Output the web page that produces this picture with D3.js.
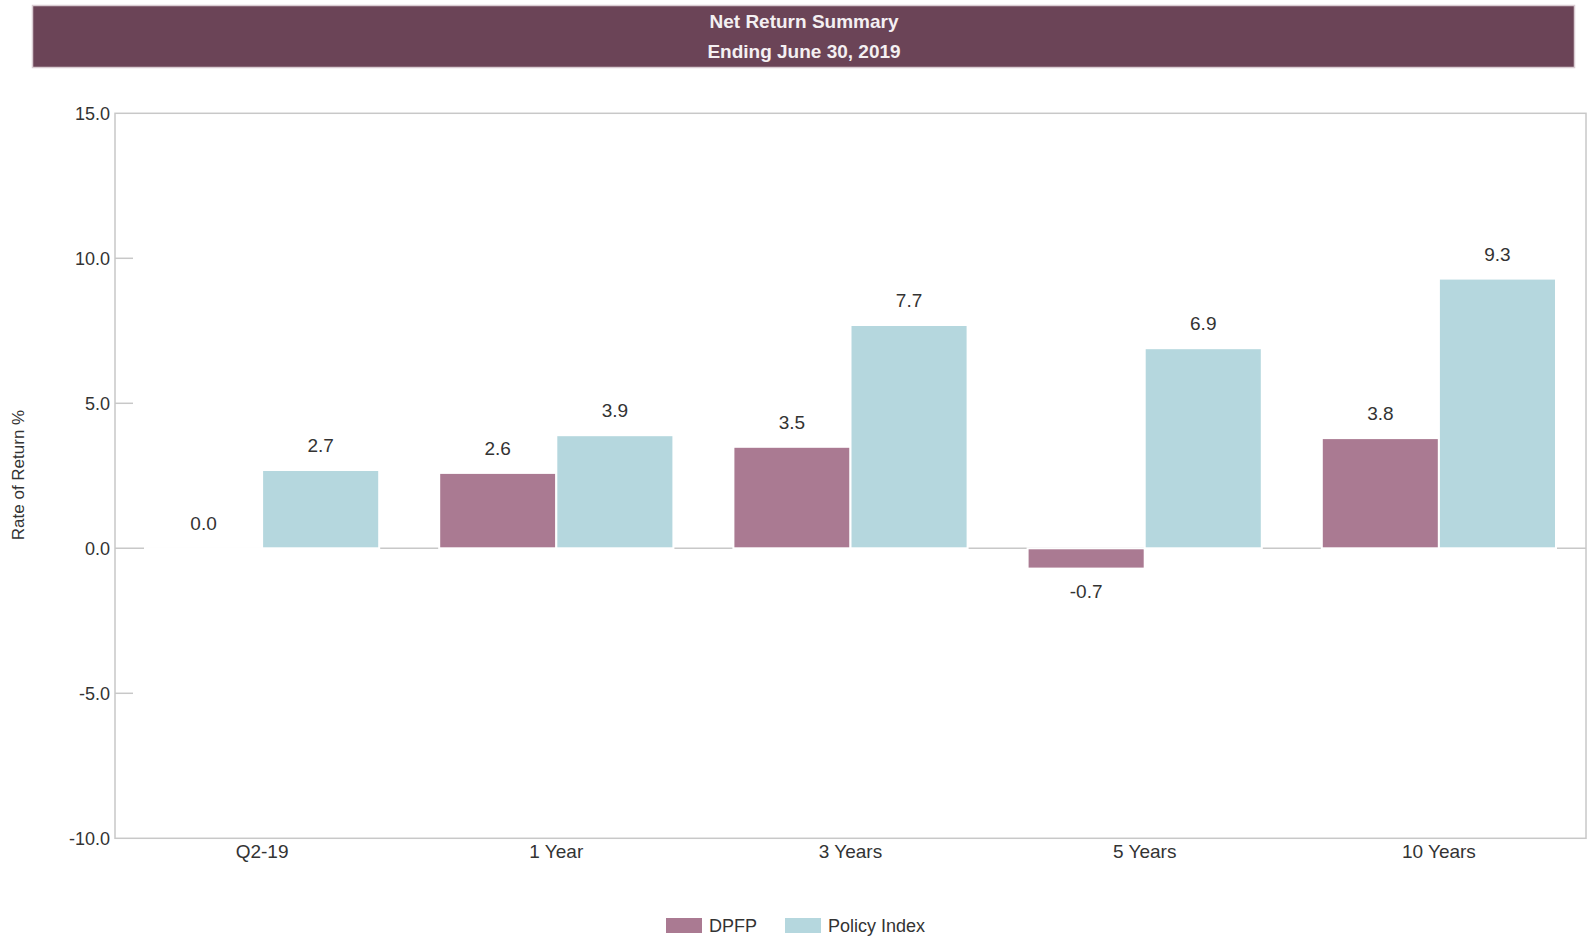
<!DOCTYPE html>
<html>
<head>
<meta charset="utf-8">
<script src="https://cdn.jsdelivr.net/npm/d3@7"></script>
<style>
  body { margin: 0; background: #fff; }
  text { font-family: "Liberation Sans", Arial, sans-serif; fill: #333; }
</style>
</head>
<body>
<div id="chart"></div>
<script>
const categories = ['Q2-19', '1 Year', '3 Years', '5 Years', '10 Years'];
const seriesNames = ['DPFP', 'Policy Index'];
const dpfp = [0.0, 2.6, 3.5, -0.7, 3.8];
const policy = [2.7, 3.9, 7.7, 6.9, 9.3];
const yTicks = [-10, -5, 0, 5, 10, 15];
const titleLines = ['Net Return Summary', 'Ending June 30, 2019'];

const width = 1593, height = 938;
const colors = ['#aa7a92', '#b5d7de'];
const grid = '#c8c8c8';

// plain hyphen for negatives, like the original
const fmt = d => d3.format('.1f')(d).replace('\u2212', '-');

const svg = d3.select('#chart').append('svg')
  .attr('width', width)
  .attr('height', height);

// title banner
svg.append('rect')
  .attr('x', 32.5).attr('y', 5.5)
  .attr('width', 1542).attr('height', 62)
  .attr('fill', '#6b4457')
  .attr('stroke', '#d9ccd2').attr('stroke-width', 1.5);

svg.selectAll('text.title')
  .data(titleLines)
  .enter().append('text')
    .attr('class', 'title')
    .attr('x', 804)
    .attr('y', (d, i) => 28 + i * 30)
    .attr('text-anchor', 'middle')
    .style('font-size', '19px')
    .style('font-weight', 'bold')
    .style('fill', '#f4f0f2')
    .text(d => d);

const plotL = 115, plotR = 1586, plotT = 113.3, plotB = 838.3;

const y = d3.scaleLinear()
  .domain([-10, 15])
  .range([plotB, plotT]);

const x0 = d3.scaleBand()
  .domain(categories)
  .range([plotL, plotR]);

const x1 = d3.scaleBand()
  .domain(seriesNames)
  .range([30, x0.bandwidth() - 30]);

// frame
svg.append('rect')
  .attr('x', plotL).attr('y', plotT)
  .attr('width', plotR - plotL).attr('height', plotB - plotT)
  .attr('fill', 'none')
  .attr('stroke', grid).attr('stroke-width', 1.5);

// y axis
const yAxis = d3.axisLeft(y)
  .tickValues(yTicks)
  .tickSize(0)
  .tickPadding(5)
  .tickFormat(fmt);

const gy = svg.append('g')
  .attr('transform', `translate(${plotL},0)`)
  .call(yAxis);
gy.select('.domain').remove();
gy.selectAll('text')
  .style('font-size', '18px')
  .style('font-family', '"Liberation Sans", Arial, sans-serif')
  .attr('fill', '#333');

// inward ticks
svg.selectAll('line.ytick')
  .data(yTicks.filter(d => d !== 0 && d !== 15 && d !== -10))
  .enter().append('line')
    .attr('class', 'ytick')
    .attr('x1', plotL).attr('x2', plotL + 18)
    .attr('y1', d => y(d)).attr('y2', d => y(d))
    .attr('stroke', grid).attr('stroke-width', 1.5);

// zero line
svg.append('line')
  .attr('x1', plotL).attr('x2', plotR)
  .attr('y1', y(0)).attr('y2', y(0))
  .attr('stroke', grid).attr('stroke-width', 1.5);

svg.append('text')
  .attr('transform', 'translate(24,475) rotate(-90)')
  .attr('text-anchor', 'middle')
  .style('font-size', '17px')
  .text('Rate of Return %');

// bars
const rows = categories.map((c, i) => ({
  cat: c,
  vals: [{ s: seriesNames[0], v: dpfp[i] }, { s: seriesNames[1], v: policy[i] }]
}));

const groups = svg.append('g').selectAll('g')
  .data(rows)
  .enter().append('g')
    .attr('transform', d => `translate(${x0(d.cat)},0)`);

groups.selectAll('rect')
  .data(d => d.vals)
  .enter().append('rect')
    .attr('x', d => x1(d.s))
    .attr('width', x1.bandwidth())
    .attr('y', d => y(Math.max(0, d.v)) - (d.v === 0 ? 0.25 : 0))
    .attr('height', d => Math.max(0.5, Math.abs(y(d.v) - y(0))))
    .attr('fill', (d, i) => colors[i])
    .attr('stroke', '#fff').attr('stroke-width', 2);

groups.selectAll('text')
  .data(d => d.vals)
  .enter().append('text')
    .attr('x', d => x1(d.s) + x1.bandwidth() / 2)
    .attr('y', d => d.v < 0 ? y(d.v) + 29 : y(d.v) - 18)
    .attr('text-anchor', 'middle')
    .style('font-size', '19px')
    .text(d => fmt(d.v));

// x labels
svg.selectAll('text.xlab')
  .data(categories)
  .enter().append('text')
    .attr('class', 'xlab')
    .attr('x', d => x0(d) + x0.bandwidth() / 2)
    .attr('y', 858)
    .attr('text-anchor', 'middle')
    .style('font-size', '19px')
    .text(d => d);

// legend
const legendX = [666, 785];
const leg = svg.selectAll('g.leg')
  .data(seriesNames)
  .enter().append('g')
    .attr('class', 'leg')
    .attr('transform', (d, i) => `translate(${legendX[i]},918)`);
leg.append('rect')
  .attr('width', 36).attr('height', 15)
  .attr('fill', (d, i) => colors[i]);
leg.append('text')
  .attr('x', 43).attr('y', 14)
  .style('font-size', '18px')
  .text(d => d);
</script>
</body>
</html>
